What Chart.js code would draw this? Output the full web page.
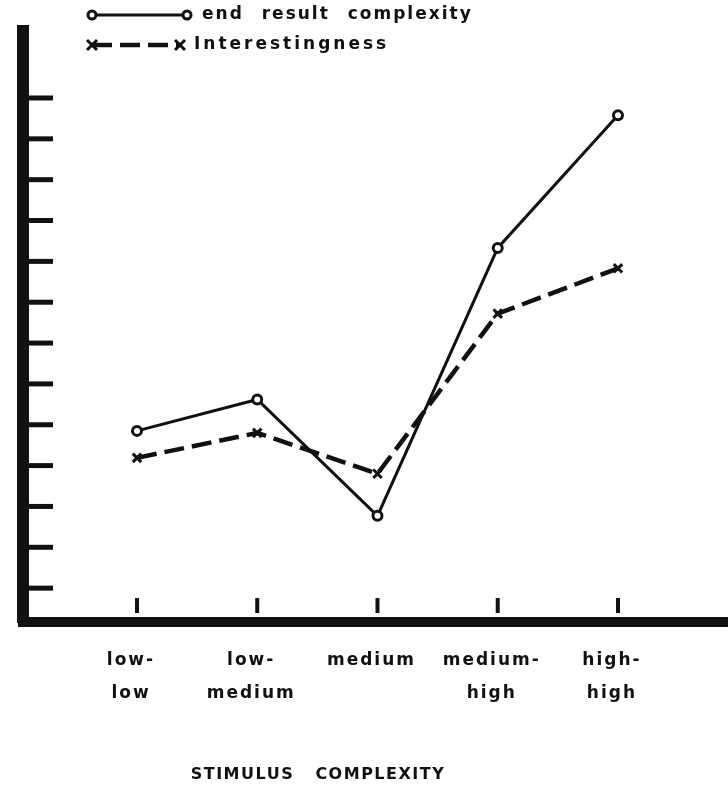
<!DOCTYPE html>
<html>
<head>
<meta charset="utf-8">
<script src="https://cdn.jsdelivr.net/npm/chart.js@4.4.1/dist/chart.umd.min.js"></script>
<style>
  html, body { margin: 0; padding: 0; background: #fff; overflow: hidden; }
  #wrap { width: 728px; height: 789px; position: relative; }
</style>
</head>
<body>
<div id="wrap"><canvas id="chart"></canvas></div>
<script>
const categories = [['low-', 'low'], ['low-', 'medium'], ['medium', ''], ['medium-', 'high'], ['high-', 'high']];
const endResultComplexity = [4.85, 5.62, 2.77, 9.33, 12.58];
const interestingness = [4.19, 4.8, 3.8, 7.72, 8.83];
const yTickValues = [1, 2, 3, 4, 5, 6, 7, 8, 9, 10, 11, 12, 13];
const axisTitle = 'STIMULUS   COMPLEXITY';

const ink = '#111';
const font = 'DejaVu Sans';

const toPoints = (values) => values.map((y, i) => ({ x: i + 1, y }));

// short tick marks drawn inward from both axes, the legend and the axis title
const paperMarks = {
    id: 'paperMarks',
    beforeDraw(chart) {
        chart.ctx.letterSpacing = '2px';
    },
    afterDraw(chart) {
        const { ctx, scales: { x, y } } = chart;
        ctx.save();
        ctx.strokeStyle = ink;
        ctx.lineCap = 'butt';
        ctx.lineWidth = 5;
        yTickValues.forEach((v) => {
            const py = y.getPixelForValue(v);
            ctx.beginPath();
            ctx.moveTo(x.left + 5, py);
            ctx.lineTo(x.left + 30, py);
            ctx.stroke();
        });
        ctx.lineWidth = 4;
        categories.forEach((c, i) => {
            const px = x.getPixelForValue(i + 1);
            ctx.beginPath();
            ctx.moveTo(px, y.bottom - 24);
            ctx.lineTo(px, y.bottom - 9);
            ctx.stroke();
        });

        // legend
        const rows = [
            { ds: chart.data.datasets[0], y: 15 },
            { ds: chart.data.datasets[1], y: 45 },
        ];
        rows.forEach((row, i) => {
            const ds = row.ds;
            const x0 = 92, x1 = i === 0 ? 187 : 180;
            ctx.lineWidth = ds.borderWidth;
            ctx.setLineDash(ds.borderDash || []);
            ctx.beginPath();
            ctx.moveTo(x0, row.y);
            ctx.lineTo(x1, row.y);
            ctx.stroke();
            ctx.setLineDash([]);
            [x0, x1].forEach((mx) => {
                ctx.lineWidth = ds.pointBorderWidth;
                if (ds.pointStyle === 'circle') {
                    ctx.fillStyle = '#fff';
                    ctx.beginPath();
                    ctx.arc(mx, row.y, 4, 0, Math.PI * 2);
                    ctx.fill();
                    ctx.stroke();
                } else {
                    const r = 5;
                    ctx.beginPath();
                    ctx.moveTo(mx - r, row.y - r);
                    ctx.lineTo(mx + r, row.y + r);
                    ctx.moveTo(mx + r, row.y - r);
                    ctx.lineTo(mx - r, row.y + r);
                    ctx.stroke();
                }
            });
            ctx.fillStyle = ink;
            ctx.font = `bold 17px "${font}"`;
            ctx.textBaseline = 'middle';
            ctx.letterSpacing = i === 0 ? '2px' : '3px';
            ctx.wordSpacing = i === 0 ? '10px' : '0px';
            ctx.fillText(ds.label, i === 0 ? 202 : 194, row.y);
        });

        // axis title, set left of centre as on the original sheet
        ctx.font = `bold 16px "${font}"`;
        ctx.letterSpacing = '1.5px';
        ctx.wordSpacing = '0px';
        ctx.textAlign = 'center';
        ctx.textBaseline = 'middle';
        ctx.fillText(axisTitle, 318, 775);
        ctx.restore();
    },
};

new Chart(document.getElementById('chart'), {
    type: 'line',
    data: {
        datasets: [
            {
                label: 'end result complexity',
                data: toPoints(endResultComplexity),
                borderColor: ink,
                borderWidth: 3,
                pointStyle: 'circle',
                pointRadius: 4.5,
                pointBorderWidth: 3,
                pointBackgroundColor: '#fff',
                pointBorderColor: ink,
                tension: 0,
            },
            {
                label: 'Interestingness',
                data: toPoints(interestingness),
                borderColor: ink,
                borderWidth: 4.5,
                borderDash: [20, 8],
                pointStyle: 'crossRot',
                pointRadius: 6,
                pointBorderWidth: 3,
                pointBorderColor: ink,
                tension: 0,
            },
        ],
    },
    options: {
        responsive: true,
        maintainAspectRatio: false,
        animation: false,
        layout: {
            autoPadding: false,
            padding: { left: 23, top: 31, right: 0, bottom: 57 },
        },
        plugins: {
            legend: { display: false },
            tooltip: { enabled: false },
        },
        scales: {
            x: {
                type: 'linear',
                min: 0.052,
                max: 5.915,
                afterBuildTicks: (scale) => {
                    scale.ticks = categories.map((c, i) => ({ value: i + 1 }));
                },
                grid: { display: false, drawTicks: false },
                border: { display: true, color: ink, width: 10 },
                ticks: {
                    color: ink,
                    padding: 22,
                    labelOffset: -6,
                    maxRotation: 0,
                    autoSkip: false,
                    font: { family: font, weight: 'bold', size: 17, lineHeight: 1.94 },
                    callback: (value) => categories[value - 1] || '',
                },
            },
            y: {
                min: 0.17,
                max: 14.64,
                grid: { display: false, drawTicks: false },
                border: { display: true, color: ink, width: 12 },
                ticks: { display: false },
            },
        },
    },
    plugins: [paperMarks],
});
</script>
</body>
</html>
